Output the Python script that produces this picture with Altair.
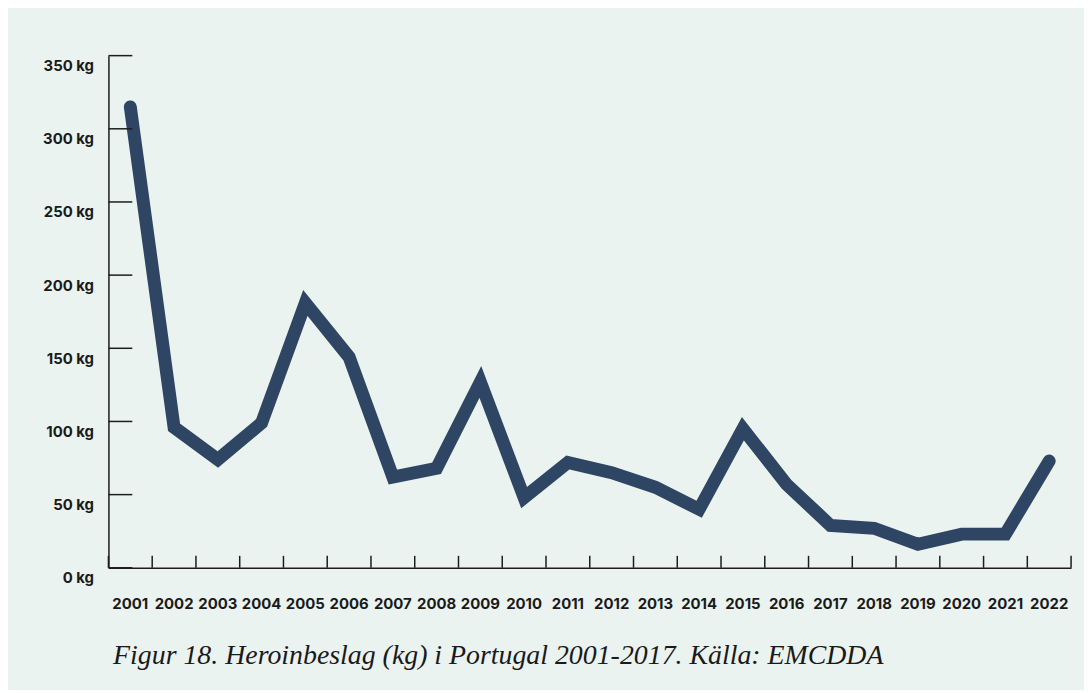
import altair as alt
import pandas as pd

years = [str(y) for y in range(2001, 2023)]
seizures_kg = [315, 96, 74, 99, 181, 144, 62, 68, 127, 48, 72, 65, 55, 40,
               95, 57, 29, 27, 16, 23, 23, 73]
y_ticks = [0, 50, 100, 150, 200, 250, 300, 350]
caption = "Figur 18. Heroinbeslag (kg) i Portugal 2001-2017. Källa: EMCDDA"

df = pd.DataFrame({"year": years, "kg": seizures_kg})
tick_df = pd.DataFrame({"v": y_ticks})
end_df = pd.DataFrame({"year": years[-1:]})

W, H = 968, 515
LINE = "#2e4663"
AX = "#1c1c1c"
FONT = "Inter"

xscale = alt.Scale(domain=years, paddingInner=0, paddingOuter=0)
yscale = alt.Scale(domain=[0, 350], nice=False)

line = alt.Chart(df).mark_line(
    color=LINE, strokeWidth=13, strokeCap="round", strokeJoin="miter"
).encode(
    x=alt.X("year:O", scale=xscale, sort=years,
            axis=alt.Axis(title=None, labelAngle=0, tickSize=0, labelPadding=29,
                          labelFont=FONT, labelFontSize=15, labelFontWeight="bold",
                          labelColor="#1a1a1a", domainColor=AX, domainWidth=1.5)),
    y=alt.Y("kg:Q", scale=yscale,
            axis=alt.Axis(title=None, values=y_ticks, labelExpr="datum.value + ' kg'",
                          tickSize=0, labelPadding=15, labelOffset=10,
                          labelFont=FONT, labelFontSize=15, labelFontWeight="bold",
                          labelColor="#1a1a1a", domainColor=AX, domainWidth=1.5,
                          grid=False)),
)

yticks = alt.Chart(tick_df).mark_rule(color=AX, strokeWidth=1.5).encode(
    y=alt.Y("v:Q", scale=yscale),
    x=alt.value(0), x2=alt.value(24),
)

xticks = alt.Chart(df).mark_rule(color=AX, strokeWidth=1.5).encode(
    x=alt.X("year:O", scale=xscale, sort=years, bandPosition=0),
    y=alt.value(H - 12), y2=alt.value(H),
)
xtick_end = alt.Chart(end_df).mark_rule(color=AX, strokeWidth=1.5).encode(
    x=alt.X("year:O", scale=xscale, sort=years, bandPosition=1),
    y=alt.value(H - 12), y2=alt.value(H),
)

chart = alt.layer(line, yticks, xticks, xtick_end).properties(
    width=W, height=H,
    background="#ebf3f0",
    padding={"left": 101, "top": 46, "right": 13, "bottom": 121},
    autosize=alt.AutoSizeParams(type="none"),
    title=alt.TitleParams(caption, orient="bottom", anchor="start", dx=71, offset=31,
                          font="Liberation Serif", fontStyle="italic", fontWeight="normal",
                          fontSize=28, color="#1a1a1a"),
).configure_view(stroke=None)

chart.save("out.html", embed_options={"renderer": "svg", "actions": False})
